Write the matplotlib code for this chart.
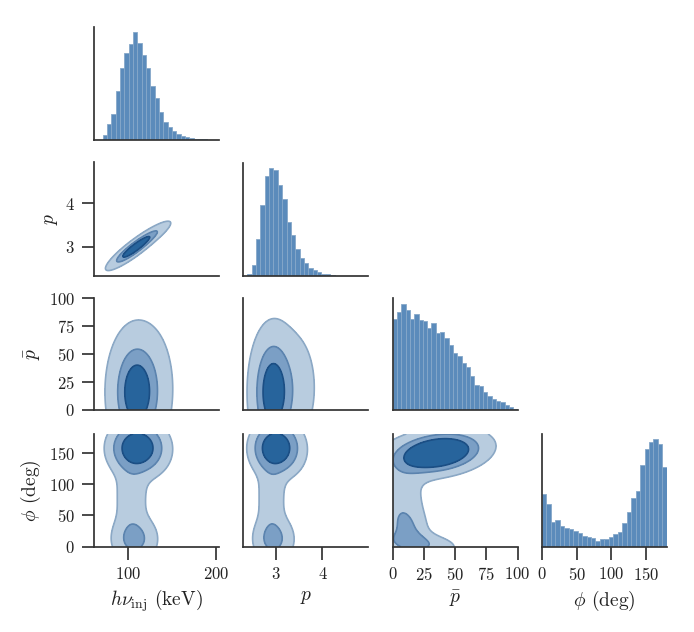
import numpy as np
import matplotlib
matplotlib.use("Agg")
import matplotlib.pyplot as plt

plt.rcParams['font.family'] = ['cmr10']
plt.rcParams['mathtext.fontset'] = 'cm'
plt.rcParams['axes.formatter.use_mathtext'] = True

# ---------------- data ----------------
labels = [r"$h\nu_{\rm inj}$ (keV)", r"$p$", r"$\bar{p}$", r"$\phi$ (deg)"]
limits = [(62.2, 203.8), (2.30, 4.98), (0.0, 100.0), (0.0, 180.0)]
ylimits_p = (2.34, 4.94)
ticks = [[100, 200], [3, 4], [0, 25, 50, 75, 100], [0, 50, 100, 150]]
clip = [None, None, (0.0, 100.0), (0.0, 180.0)]

# histograms (bin range, counts)
hnu_range = (71.7, 194.3)
hnu_counts = [14, 47, 78, 148, 215, 260, 287, 323, 290, 255, 215, 162, 125,
              85, 53, 40, 27, 17, 12, 8, 6, 4, 3, 2, 1]
p_range = (2.385, 4.26)
p_counts = [4, 32, 109, 212, 299, 324, 319, 274, 230, 162, 122, 80, 54, 37,
            24, 17, 10, 6, 4, 3]
pbar_range = (0.0, 100.0)
pbar_counts = [274, 297, 322, 302, 274, 292, 272, 269, 247, 262, 234, 237, 217,
               197, 174, 162, 142, 130, 104, 77, 72, 54, 42, 32, 26, 24, 15, 10, 4]
phi_range = (0.0, 180.0)
phi_counts = [158, 130, 73, 80, 62, 56, 54, 47, 40, 32, 30, 25, 18, 22, 23, 28,
              38, 43, 72, 104, 148, 167, 245, 295, 315, 323, 310, 240]

hist_ranges = [hnu_range, p_range, pbar_range, phi_range]
hist_counts = [hnu_counts, p_counts, pbar_counts, phi_counts]

# 2D density components: (weight, mx, my, sx, sy, rho)
dens_p_hnu = [(0.8, 107, 2.96, 13.5, 0.21, 0.9), (0.2, 125, 3.24, 13, 0.19, 0.88)]
dens_pbar_hnu = [(0.85, 109, 16, 15, 27, 0.0), (0.15, 128, 20, 15, 30, 0.0)]
dens_phi_hnu = [(0.6, 111, 158, 15, 20, 0.0), (0.16, 108, 12, 14, 20, 0.0),
                (0.14, 104, 75, 11, 45, 0.0), (0.1, 118, 150, 22, 30, 0.0)]
dens_pbar_p = [(0.8, 2.93, 16, 0.23, 27, 0.0), (0.2, 3.38, 20, 0.3, 30, 0.0)]
dens_phi_p = [(0.6, 3.0, 158, 0.25, 20, 0.0), (0.16, 2.95, 12, 0.24, 20, 0.0),
              (0.14, 2.9, 75, 0.18, 45, 0.0), (0.1, 3.15, 150, 0.38, 30, 0.0)]
dens_phi_pbar = [(0.62, 36, 150, 22, 20, 0.25), (0.1, 12, 28, 10, 24, -0.2),
                 (0.16, 6, 80, 13, 40, 0.0), (0.1, 20, 5, 20, 12, -0.3)]
densities = {(1, 0): dens_p_hnu, (2, 0): dens_pbar_hnu, (3, 0): dens_phi_hnu,
             (2, 1): dens_pbar_p, (3, 1): dens_phi_p, (3, 2): dens_phi_pbar}
mass_levels = [0.95, 0.68, 0.393]

# ---------------- style ----------------
fill_colors = ['#b8ccdf', '#7b9fc5', '#27649c']
line_colors = ['#8ba8c5', '#5b83ae', '#1b4e84']
hist_face = '#5b8bbb'
hist_edge = '#86a8c9'
spine_col = '#333333'

W, H = 694, 632
fig = plt.figure(figsize=(W / 100, H / 100), dpi=100)
col_left = [94.4, 243.3, 392.7, 542.0]
ax_w = 124.8
row_top = [27.0, 162.5, 298.3, 434.0]
row_bot = [140.0, 275.7, 410.0, 546.7]


def mixture(comps, X, Y):
    Z = np.zeros_like(X)
    for w, mx, my, sx, sy, r in comps:
        dx = (X - mx) / sx
        dy = (Y - my) / sy
        q = (dx ** 2 - 2 * r * dx * dy + dy ** 2) / (1 - r ** 2)
        Z += w * np.exp(-0.5 * q) / (sx * sy * np.sqrt(1 - r ** 2))
    return Z


def hpd_levels(Z, fracs):
    z = np.sort(Z.ravel())[::-1]
    c = np.cumsum(z)
    c /= c[-1]
    return [z[np.searchsorted(c, f)] for f in fracs]


for i in range(4):
    for j in range(i + 1):
        left = col_left[j] / W
        bottom = 1 - row_bot[i] / H
        height = (row_bot[i] - row_top[i]) / H
        ax = fig.add_axes([left, bottom, ax_w / W, height])
        for s in ['top', 'right']:
            ax.spines[s].set_visible(False)
        for s in ['left', 'bottom']:
            ax.spines[s].set_color(spine_col)
            ax.spines[s].set_linewidth(1.25)
        ax.tick_params(colors=spine_col, length=9, width=1.25, labelsize=12,
                       labelcolor='#222222', pad=5)
        ax.set_xlim(limits[j])
        if i == j:
            lo, hi = hist_ranges[i]
            counts = np.array(hist_counts[i], dtype=float)
            edges = np.linspace(lo, hi, len(counts) + 1)
            ax.bar(edges[:-1], counts, width=np.diff(edges), align='edge',
                   color=hist_face, edgecolor=hist_edge, linewidth=0.6)
            ax.set_ylim(0, counts.max() * 1.05)
            ax.set_yticks([])
        else:
            ylim = ylimits_p if i == 1 else limits[i]
            ax.set_ylim(ylim)
            xl = limits[j] if clip[j] is None else clip[j]
            yl = ylim if clip[i] is None else clip[i]
            xs = np.linspace(xl[0], xl[1], 400)
            ys = np.linspace(yl[0], yl[1], 400)
            X, Y = np.meshgrid(xs, ys)
            Z = mixture(densities[(i, j)], X, Y)
            lev = hpd_levels(Z, mass_levels)
            ax.contourf(X, Y, Z, levels=lev + [Z.max() * 1.01], colors=fill_colors)
            ax.contour(X, Y, Z, levels=lev, colors=line_colors, linewidths=1.2)
        if i == 3:
            ax.set_xticks(ticks[j])
            ax.set_xlabel(labels[j], fontsize=14, color='#222222')
        else:
            ax.tick_params(axis='x', bottom=False, labelbottom=False)
        if j == 0 and i > 0:
            ax.set_yticks(ticks[i])
            ax.set_ylabel(labels[i], fontsize=14, color='#222222')
        else:
            ax.tick_params(axis='y', left=False, labelleft=False)

fig.savefig("out.png", dpi=100)
